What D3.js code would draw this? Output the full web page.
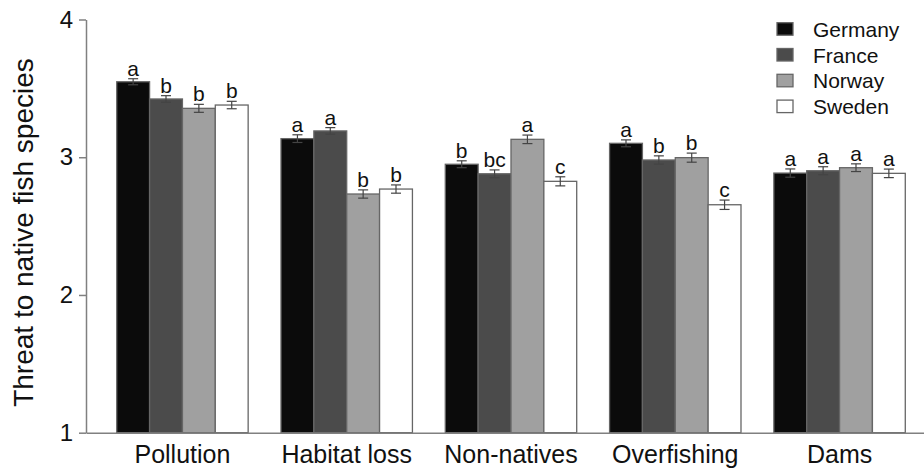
<!DOCTYPE html>
<html>
<head>
<meta charset="utf-8">
<script src="https://cdn.jsdelivr.net/npm/d3@7"></script>
<style>
  body { margin: 0; background: #fff; }
  text { font-family: Arial, "Liberation Sans", sans-serif; fill: #111; }
</style>
</head>
<body>
<div id="canvas"></div>
<script>
const categories = ["Pollution", "Habitat loss", "Non-natives", "Overfishing", "Dams"];
const countries = ["Germany", "France", "Norway", "Sweden"];

const germany = [3.548, 3.135, 2.949, 3.101, 2.885];
const france  = [3.423, 3.191, 2.880, 2.980, 2.902];
const norway  = [3.355, 2.733, 3.130, 2.997, 2.924];
const sweden  = [3.379, 2.769, 2.825, 2.655, 2.883];

const germanyErr = [0.022, 0.028, 0.025, 0.025, 0.030];
const franceErr  = [0.024, 0.024, 0.028, 0.030, 0.029];
const norwayErr  = [0.029, 0.030, 0.031, 0.033, 0.028];
const swedenErr  = [0.027, 0.030, 0.033, 0.034, 0.031];

const germanyLetters = ["a", "a", "b", "a", "a"];
const franceLetters  = ["b", "a", "bc", "b", "a"];
const norwayLetters  = ["b", "b", "a", "b", "a"];
const swedenLetters  = ["b", "b", "c", "c", "a"];

const yTicks = [1, 2, 3, 4];

const colors = ["#0b0b0b", "#4b4b4b", "#a0a0a0", "#ffffff"];

const values = [germany, france, norway, sweden];
const errors = [germanyErr, franceErr, norwayErr, swedenErr];
const letters = [germanyLetters, franceLetters, norwayLetters, swedenLetters];

// flat rows for drawing
const rows = [];
categories.forEach((cat, i) => {
  countries.forEach((c, j) => {
    rows.push({ cat: cat, country: c, value: values[j][i], err: errors[j][i], letter: letters[j][i], color: colors[j] });
  });
});

const width = 924;
const height = 468;

const svg = d3.select("#canvas").append("svg")
  .attr("width", width)
  .attr("height", height);

const y = d3.scaleLinear()
  .domain([1, 4])
  .range([432.7, 19.5]);

const x = d3.scaleBand()
  .domain(categories)
  .range([86, 936])
  .paddingInner(0.2)
  .paddingOuter(0.187);

const xc = d3.scaleBand()
  .domain(countries)
  .range([0, x.bandwidth()]);

// bars
svg.selectAll("rect.bar").data(rows).enter().append("rect")
  .attr("class", "bar")
  .attr("x", d => x(d.cat) + xc(d.country))
  .attr("y", d => y(d.value))
  .attr("width", xc.bandwidth())
  .attr("height", d => y(1) - y(d.value))
  .style("fill", d => d.color)
  .style("stroke", "#666")
  .style("stroke-width", 1.3);

// error bars
const eb = svg.selectAll("g.err").data(rows).enter().append("g")
  .attr("class", "err")
  .attr("transform", d => `translate(${x(d.cat) + xc(d.country) + xc.bandwidth() / 2},0)`)
  .style("stroke", "#444")
  .style("stroke-width", 1.2);

eb.append("line")
  .attr("y1", d => y(d.value + d.err))
  .attr("y2", d => y(d.value - d.err));
eb.append("line")
  .attr("x1", -5).attr("x2", 5)
  .attr("y1", d => y(d.value + d.err))
  .attr("y2", d => y(d.value + d.err));
eb.append("line")
  .attr("x1", -5).attr("x2", 5)
  .attr("y1", d => y(d.value - d.err))
  .attr("y2", d => y(d.value - d.err));

// letters
svg.selectAll("text.letter").data(rows).enter().append("text")
  .attr("class", "letter")
  .attr("x", d => x(d.cat) + xc(d.country) + xc.bandwidth() / 2)
  .attr("y", d => y(d.value + d.err) - 3)
  .attr("text-anchor", "middle")
  .style("font-size", "21px")
  .text(d => d.letter);

// axes
const xAxis = svg.append("g")
  .attr("transform", `translate(0,${y(1)})`)
  .call(d3.axisBottom(x).tickSize(0).tickPadding(12.5));
xAxis.selectAll("text").style("font-size", "25px").style("fill", "#111");
xAxis.select(".domain").style("stroke", "#808080").style("stroke-width", 1.5);

const yAxis = svg.append("g")
  .attr("transform", "translate(86,0)")
  .call(d3.axisLeft(y).tickValues(yTicks).tickFormat(d3.format("d")).tickSize(7).tickSizeOuter(0).tickPadding(6));
yAxis.selectAll("text").style("font-size", "24px").style("fill", "#111");
yAxis.selectAll("line").style("stroke", "#808080").style("stroke-width", 1.5);
yAxis.select(".domain").style("stroke", "#808080").style("stroke-width", 1.5);

svg.append("text")
  .attr("transform", "rotate(-90)")
  .attr("x", -232.5)
  .attr("y", 33)
  .attr("text-anchor", "middle")
  .style("font-size", "28px")
  .text("Threat to native fish species");

// legend
const legend = svg.selectAll("g.legend").data(countries).enter().append("g")
  .attr("class", "legend")
  .attr("transform", (d, i) => `translate(777,${22.7 + i * 25.8})`);

legend.append("rect")
  .attr("width", 16)
  .attr("height", 12.5)
  .style("fill", (d, i) => colors[i])
  .style("stroke", "#666")
  .style("stroke-width", 1.3);

legend.append("text")
  .attr("x", 36)
  .attr("y", 14)
  .style("font-size", "21px")
  .text(d => d);
</script>
</body>
</html>
